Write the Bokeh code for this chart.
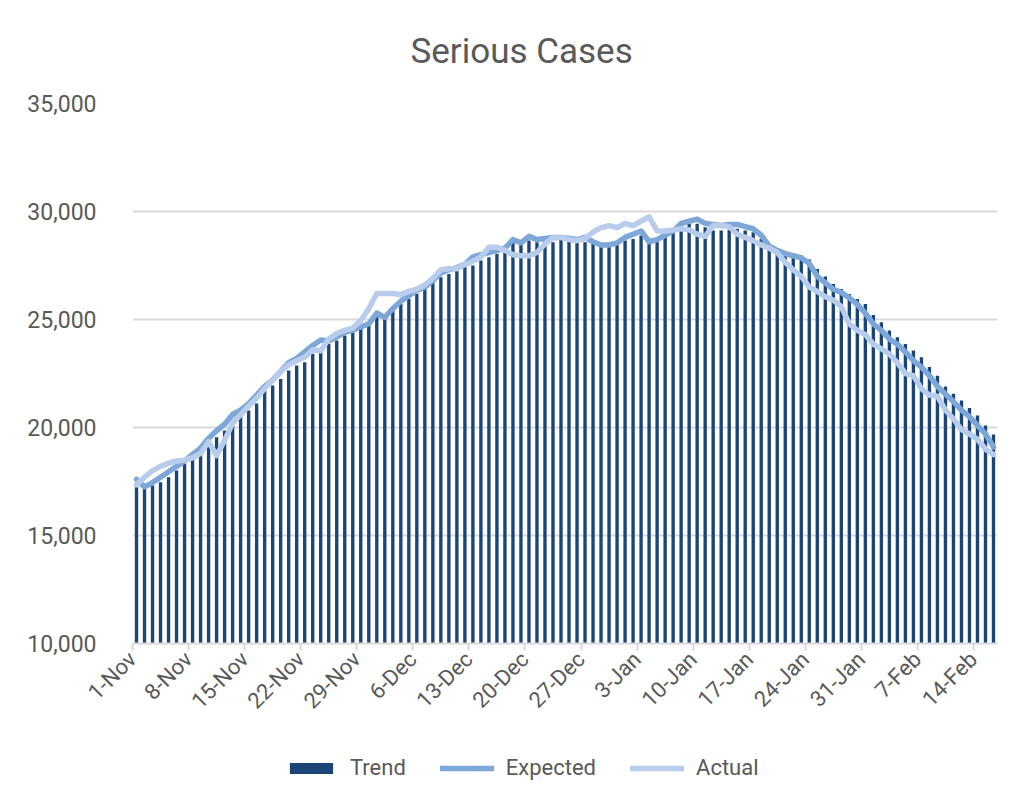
import datetime as dt
from bokeh.plotting import figure
from bokeh.layouts import column
from bokeh.models import Range1d, Legend, LegendItem, FixedTicker, NumeralTickFormatter
from bokeh.embed import file_html
from bokeh.resources import INLINE
import math

start_date = dt.date(2020, 11, 1)
n_days = 108
dates = [start_date + dt.timedelta(days=k) for k in range(n_days)]

trend = [17450, 17200, 17310, 17470, 17700, 18010, 18320, 18550, 18860, 19250,
         19550, 19860, 20320, 20630, 20790, 21110, 21710, 21940, 22250, 22640,
         22870, 23020, 23410, 23560, 23870, 24030, 24260, 24410, 24570, 24720,
         25190, 25110, 25420, 25730, 25960, 26190, 26420, 26730, 26960, 27110,
         27270, 27420, 27500, 27730, 27880, 28040, 28190, 28580, 28500, 28660,
         28580, 28660, 28580, 28730, 28660, 28580, 28580, 28500, 28430, 28430,
         28500, 28660, 28730, 28890, 28660, 28730, 28890, 29040, 29350, 29430,
         29430, 29270, 29120, 29120, 29150, 29200, 29120, 29040, 28730, 28430,
         28250, 28150, 28070, 27960, 27780, 27340, 26990, 26640, 26410, 26180,
         25950, 25720, 25210, 24870, 24490, 24180, 23870, 23560, 23250, 22800,
         22400, 21900, 21560, 21250, 20900, 20560, 20090, 19680]

expected = [17600, 17250, 17450, 17700, 17950, 18200, 18450, 18750, 19050, 19500,
            19850, 20150, 20600, 20800, 21100, 21500, 21900, 22200, 22600, 23000,
            23200, 23500, 23800, 24050, 24000, 24200, 24400, 24500, 24650, 24800,
            25300, 25100, 25500, 25850, 26100, 26350, 26500, 26800, 27150, 27300,
            27400, 27550, 27900, 28000, 28100, 28200, 28300, 28700, 28550, 28850,
            28700, 28750, 28800, 28800, 28750, 28700, 28800, 28600, 28450, 28450,
            28550, 28800, 28950, 29100, 28600, 28700, 28900, 29100, 29450, 29550,
            29650, 29450, 29400, 29350, 29400, 29400, 29300, 29200, 28900, 28400,
            28200, 28050, 27950, 27850, 27600, 27000, 26700, 26400, 26250, 26000,
            25700, 25300, 24800, 24500, 24100, 23850, 23500, 23100, 22800, 22400,
            21900, 21550, 21200, 20800, 20500, 20100, 19700, 19100]

actual = [17350, 17700, 18000, 18200, 18350, 18450, 18500, 18600, 18800, 19350,
          18700, 19400, 20200, 20600, 21000, 21350, 21800, 22200, 22600, 22900,
          23100, 23250, 23600, 23550, 24100, 24350, 24500, 24600, 24950, 25500,
          26200, 26200, 26200, 26150, 26300, 26400, 26600, 26900, 27300, 27350,
          27350, 27550, 27700, 27900, 28350, 28350, 28200, 28000, 27950, 27950,
          28100, 28500, 28800, 28800, 28700, 28650, 28750, 29050, 29250, 29350,
          29250, 29450, 29350, 29550, 29750, 29100, 29100, 29150, 29200, 29150,
          28950, 28850, 29350, 29350, 29300, 28950, 28800, 28650, 28450, 28300,
          28100, 27650, 27300, 27000, 26500, 26300, 26050, 25900, 25600, 24800,
          24500, 24300, 23850, 23650, 23400, 23000, 22500, 22400, 21800, 21500,
          21450, 20800, 20400, 19900, 19700, 19450, 19000, 18750]

tick_labels = ["1-Nov", "8-Nov", "15-Nov", "22-Nov", "29-Nov", "6-Dec", "13-Dec",
               "20-Dec", "27-Dec", "3-Jan", "10-Jan", "17-Jan", "24-Jan", "31-Jan",
               "7-Feb", "14-Feb"]
y_ticks = [10000, 15000, 20000, 25000, 30000, 35000]
series_names = ["Trend", "Expected", "Actual"]

FONT = "Roboto"
TXT = "#595959"
GRID = "#D9D9D9"
C_TREND = "#1A4576"
C_EXP = "#7DA7D9"
C_ACT = "#B7CDEB"
LW = 5.5

xc = [k + 0.5 for k in range(n_days)]
tick_pos = [k for k in range(n_days) if (dates[k] - start_date).days % 7 == 0]

MAIN_H = 743
p = figure(width=1013, height=MAIN_H, output_backend="svg", toolbar_location=None,
           x_range=Range1d(0, n_days), y_range=Range1d(10000, 35000),
           min_border_left=132, min_border_right=16, min_border_top=103,
           min_border_bottom=MAIN_H - 643)
p.outline_line_color = None
p.border_fill_color = "white"
p.background_fill_color = "white"

p.title.text = "Serious Cases"
p.title.align = "left"
p.title.vertical_align = "top"
p.title.standoff = 59
p.title.offset = 278
p.title.text_font = FONT
p.title.text_font_size = "35px"
p.title.text_font_style = "normal"
p.title.text_color = TXT

p.vbar(x=xc, top=trend, bottom=10000, width=0.42, fill_color=C_TREND, line_color=None)
p.line(xc, expected, line_color=C_EXP, line_width=LW, line_join="round", line_cap="round")
p.line(xc, actual, line_color=C_ACT, line_width=LW, line_join="round", line_cap="round")

p.xaxis.ticker = FixedTicker(ticks=tick_pos)
p.xaxis.major_label_overrides = {tp: lab for tp, lab in zip(tick_pos, tick_labels)}
p.xaxis.major_label_orientation = math.pi / 4
p.xaxis.axis_line_color = GRID
p.xaxis.axis_line_width = 2
p.xaxis.major_tick_line_color = GRID
p.xaxis.major_tick_line_width = 2
p.xaxis.major_tick_out = 7
p.xaxis.major_tick_in = 0
p.xaxis.minor_tick_line_color = None
p.xaxis.major_label_text_font = FONT
p.xaxis.major_label_text_font_size = "22px"
p.xaxis.major_label_text_color = TXT
p.xaxis.major_label_standoff = 5

p.yaxis.ticker = FixedTicker(ticks=y_ticks)
p.yaxis.formatter = NumeralTickFormatter(format="0,0")
p.yaxis.axis_line_color = None
p.yaxis.major_tick_line_color = None
p.yaxis.minor_tick_line_color = None
p.yaxis.major_label_text_font = FONT
p.yaxis.major_label_text_font_size = "23px"
p.yaxis.major_label_text_color = TXT
p.yaxis.major_label_standoff = 30

p.xgrid.grid_line_color = None
p.ygrid.grid_line_color = GRID
p.ygrid.grid_line_width = 2

# separate strip for the legend (dummy glyphs lie outside its visible range)
LEG_H = 42
q = figure(width=1013, height=LEG_H, output_backend="svg", toolbar_location=None,
           x_range=Range1d(0, 1), y_range=Range1d(0, 1),
           min_border=0, min_border_left=0, min_border_right=0,
           min_border_top=0, min_border_bottom=0)
q.axis.visible = False
q.grid.visible = False
q.outline_line_color = None
q.border_fill_color = "white"
q.background_fill_color = "white"
rb = q.vbar(x=[5], top=[5], bottom=4, width=0.5, fill_color=C_TREND, line_color=None)
re = q.line(x=[5, 6], y=[5, 5], line_color=C_EXP, line_width=LW, line_cap="round")
ra = q.line(x=[5, 6], y=[5, 5], line_color=C_ACT, line_width=LW, line_cap="round")
legend = Legend(items=[LegendItem(label=series_names[0], renderers=[rb]),
                       LegendItem(label=series_names[1], renderers=[re]),
                       LegendItem(label=series_names[2], renderers=[ra])],
                orientation="horizontal", location=(152, 5),
                border_line_color=None, background_fill_alpha=0,
                label_text_font=FONT, label_text_font_size="22px",
                label_text_color=TXT, glyph_width=54, glyph_height=14,
                label_standoff=12, spacing=34, padding=0, margin=0)
q.add_layout(legend, "center")

layout = column(p, q, spacing=0)
open("out.html", "w").write(file_html(layout, INLINE))
